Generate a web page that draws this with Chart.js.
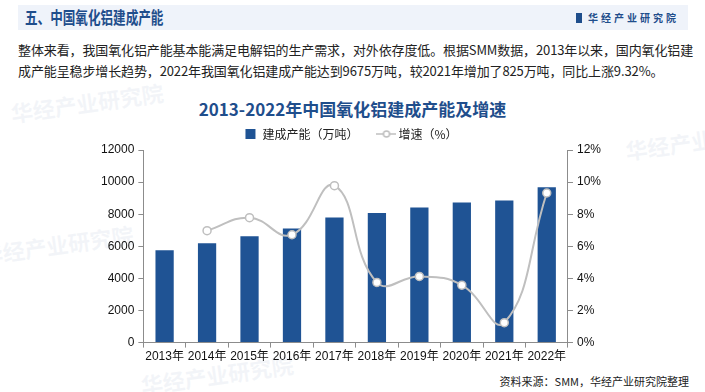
<!DOCTYPE html>
<html>
<head>
<meta charset="utf-8">
<script src="https://cdn.jsdelivr.net/npm/chart.js@4"></script>
<style>
  body { margin: 0; width: 705px; height: 392px; background: #fff; position: relative; overflow: hidden;
         font-family: "Noto Sans CJK SC", "Liberation Sans", sans-serif; }
  .band { position: absolute; left: 18px; top: 5px; width: 670px; height: 25px; background: #eff3fa; }
  .head { position: absolute; left: 25px; top: 4px; font-size: 17px; font-weight: bold; color: #1f4e8c; line-height: 25px;
          transform: scaleX(0.74); transform-origin: left center; white-space: nowrap; }
  .logo { position: absolute; right: 26px; top: 5px; line-height: 25px; font-size: 10px; font-weight: bold;
          color: #1f4e8c; letter-spacing: 3px; }
  .logo i { display: inline-block; width: 6px; height: 10px; border-left: 3px solid #1f4e8c; border-right: 3px solid #1f4e8c;
            box-sizing: border-box; vertical-align: -1px; margin-right: 6px; }
  .para { position: absolute; left: 18px; top: 39px; width: 686px; font-size: 13px; line-height: 21px; color: #222; letter-spacing: -0.12px; }
  .title { position: absolute; left: 0; width: 705px; top: 96px; text-align: center; font-size: 17px; font-weight: bold; color: #1f4e8c; }
  .src { position: absolute; right: 16px; top: 373px; font-size: 11px; color: #222; }
  .wm { position: absolute; font-size: 22px; font-weight: bold; color: rgba(205,214,228,0.25); transform: rotate(-8deg); white-space: nowrap; }
  #wrap { position: absolute; left: 97px; top: 124px; width: 508px; height: 242px; }
</style>
</head>
<body>
<div class="wm" style="left:10px;top:86px">华经产业研究院</div>
<div class="wm" style="left:-20px;top:228px">华经产业研究院</div>
<div class="wm" style="left:140px;top:358px">华经产业研究院</div>
<div class="wm" style="left:625px;top:128px">华经产业</div>
<div class="band"></div>
<div class="head">五、中国氧化铝建成产能</div>
<div class="logo"><i></i>华经产业研究院</div>
<div class="para">整体来看，我国氧化铝产能基本能满足电解铝的生产需求，对外依存度低。根据SMM数据，2013年以来，国内氧化铝建成产能呈稳步增长趋势，2022年我国氧化铝建成产能达到9675万吨，较2021年增加了825万吨，同比上涨9.32%。</div>
<div class="title">2013-2022年中国氧化铝建成产能及增速</div>
<div id="wrap"><canvas id="chart"></canvas></div>
<div class="src">资料来源：SMM，华经产业研究院整理</div>
<script>
const years = ['2013年', '2014年', '2015年', '2016年', '2017年', '2018年', '2019年', '2020年', '2021年', '2022年'];
const capacity = [5750, 6190, 6620, 7110, 7800, 8070, 8420, 8730, 8850, 9675];
const growth = [null, 6.97, 7.78, 6.72, 9.78, 3.75, 4.12, 3.58, 1.24, 9.32];
const leftTicks = [0, 2000, 4000, 6000, 8000, 10000, 12000];
const rightTicks = [0, 2, 4, 6, 8, 10, 12];

// legend symbol for the growth line: -o-
const lineIcon = document.createElement('canvas');
lineIcon.width = 20; lineIcon.height = 10;
(function () {
  const c = lineIcon.getContext('2d');
  c.strokeStyle = '#bfbfbf'; c.lineWidth = 1.5;
  c.beginPath(); c.moveTo(0, 5); c.lineTo(20, 5); c.stroke();
  c.fillStyle = '#fff';
  c.beginPath(); c.arc(10, 5, 3, 0, Math.PI * 2); c.fill(); c.stroke();
})();

const font = { family: '"Liberation Sans", "Noto Sans CJK SC", sans-serif', size: 12 };
const axisColor = '#8c8c8c';

new Chart(document.getElementById('chart'), {
  type: 'bar',
  data: {
    labels: years,
    datasets: [
      {
        type: 'line',
        label: '增速（%）',
        data: growth,
        yAxisID: 'y1',
        borderColor: '#bfbfbf',
        borderWidth: 2,
        tension: 0.45,
        pointRadius: 4,
        pointBackgroundColor: '#fff',
        pointBorderColor: '#bfbfbf',
        pointBorderWidth: 1.5,
        order: 0
      },
      {
        label: '建成产能（万吨）',
        data: capacity,
        yAxisID: 'y',
        backgroundColor: '#1f5394',
        barPercentage: 0.86,
        categoryPercentage: 0.5,
        order: 1
      }
    ]
  },
  options: {
    responsive: true,
    maintainAspectRatio: false,
    animation: false,
    plugins: {
      tooltip: { enabled: false },
      legend: {
        position: 'top',
        reverse: true,
        labels: {
          color: '#222',
          font: { family: '"Noto Sans CJK SC", sans-serif', size: 12 },
          usePointStyle: true,
          boxHeight: 10,
          padding: 4,
          generateLabels(chart) {
            const items = Chart.defaults.plugins.legend.labels.generateLabels(chart);
            items.forEach(it => {
              if (it.datasetIndex === 0) { it.pointStyle = lineIcon; }
              else {
                it.pointStyle = 'rect'; it.fillStyle = '#1f5394'; it.strokeStyle = '#1f5394';
                it.text = it.text + '\u3000\u3000';
              }
            });
            return items;
          }
        }
      }
    },
    scales: {
      x: {
        grid: { display: true, drawOnChartArea: false, color: axisColor, tickLength: 5 },
        border: { color: axisColor },
        ticks: { color: '#111', font, maxRotation: 0, autoSkip: false, padding: 2 }
      },
      y: {
        position: 'left',
        min: 0, max: 12000,
        afterBuildTicks(axis) { axis.ticks = leftTicks.map(v => ({ value: v })); },
        grid: { display: true, drawOnChartArea: false, color: axisColor, tickLength: 5 },
        border: { color: axisColor },
        ticks: { color: '#111', font, padding: 4, callback: v => String(v) }
      },
      y1: {
        position: 'right',
        min: 0, max: 12,
        afterBuildTicks(axis) { axis.ticks = rightTicks.map(v => ({ value: v })); },
        grid: { display: true, drawOnChartArea: false, color: axisColor, tickLength: 5 },
        border: { color: axisColor },
        ticks: { color: '#111', font, padding: 4, callback: v => v + '%' }
      }
    }
  }
});
</script>
</body>
</html>
